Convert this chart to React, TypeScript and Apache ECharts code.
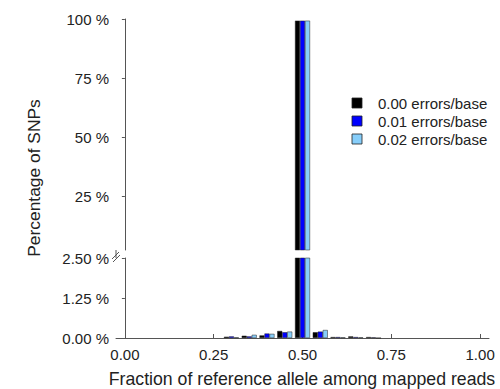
import React, { useEffect, useRef } from "react";
import * as echarts from "echarts";

const bins = [0.30, 0.35, 0.40, 0.45, 0.50, 0.55, 0.60, 0.65, 0.70];
const err000 = [0.04, 0.07, 0.08, 0.22, 99.3, 0.18, 0.03, 0.05, 0.03];
const err001 = [0.05, 0.05, 0.14, 0.18, 99.3, 0.20, 0.03, 0.03, 0.02];
const err002 = [0.02, 0.10, 0.13, 0.20, 99.3, 0.25, 0.02, 0.02, 0.0];
const seriesNames = ["0.00 errors/base", "0.01 errors/base", "0.02 errors/base"];
const seriesColors = ["#000000", "#0000ff", "#87cefa"];
const xTicks = [0, 0.25, 0.5, 0.75, 1.0];
const topTicks = [25, 50, 75, 100];
const breakValue = 2.5;

export default function App() {
  const ref = useRef<HTMLDivElement>(null);
  useEffect(() => {
    if (!ref.current) return;
    const chart = echarts.init(ref.current, null, { renderer: "svg" });
    const all = [err000, err001, err002];
    const textColor = "#222";
    const axisColor = "#555";
    const font = "Liberation Sans, Arial";
    const left = 116;
    const right = 11;
    const series: any[] = [];
    all.forEach((vals, i) => {
      const common = {
        name: seriesNames[i],
        type: "bar",
        barWidth: 5,
        barGap: "0%",
        clip: true,
        itemStyle: { color: seriesColors[i], borderColor: "#222", borderWidth: 0.5 },
      };
      series.push({
        ...common,
        xAxisIndex: 0,
        yAxisIndex: 0,
        data: bins.map((b, k) => [b, vals[k] > breakValue ? vals[k] : null]),
      });
      series.push({
        ...common,
        xAxisIndex: 1,
        yAxisIndex: 1,
        data: bins.map((b, k) => [b, vals[k]]),
      });
    });
    const xBase = {
      type: "value",
      min: -0.025,
      max: 1.025,
      splitLine: { show: false },
    };
    const legendGraphics: any[] = [];
    seriesNames.forEach((name, i) => {
      const cy = 103 + i * 18;
      legendGraphics.push({
        type: "rect",
        shape: { x: 352, y: cy - 5, width: 10, height: 10 },
        style: { fill: seriesColors[i], stroke: "#222", lineWidth: 0.8 },
      });
      legendGraphics.push({
        type: "text",
        x: 378,
        y: cy,
        style: { text: name, fontSize: 15, fill: textColor, fontFamily: font, verticalAlign: "middle" },
      });
    });
    chart.setOption({
      animation: false,
      grid: [
        { left, right, top: 19, height: 231 },
        { left, right, top: 258, bottom: 51 },
      ],
      xAxis: [
        { ...xBase, gridIndex: 0, show: false },
        {
          ...xBase,
          gridIndex: 1,
          axisLine: { show: true, onZero: false, lineStyle: { color: axisColor, width: 1 } },
          axisTick: { show: true, inside: true, length: 4, customValues: xTicks, lineStyle: { color: axisColor } },
          axisLabel: {
            customValues: xTicks,
            formatter: (v: number) => v.toFixed(2),
            fontSize: 15,
            color: textColor,
            fontFamily: font,
            margin: 9,
          },
        },
      ],
      yAxis: [
        {
          type: "value",
          gridIndex: 0,
          min: breakValue,
          max: 100,
          splitLine: { show: false },
          axisLine: { show: true, lineStyle: { color: axisColor } },
          axisTick: { show: true, length: 3, customValues: topTicks, lineStyle: { color: axisColor } },
          axisLabel: {
            customValues: topTicks,
            formatter: (v: number) => `${v} %`,
            fontSize: 15,
            color: textColor,
            fontFamily: font,
            margin: 7,
          },
        },
        {
          type: "value",
          gridIndex: 1,
          min: 0,
          max: breakValue,
          interval: 1.25,
          splitLine: { show: false },
          axisLine: { show: true, lineStyle: { color: axisColor } },
          axisTick: { show: true, length: 3, lineStyle: { color: axisColor } },
          axisLabel: {
            formatter: (v: number) => `${v.toFixed(2)} %`,
            fontSize: 15,
            color: textColor,
            fontFamily: font,
            margin: 7,
          },
        },
      ],
      series,
      graphic: [
        { type: "line", shape: { x1: 116, y1: 250, x2: 116, y2: 258 }, style: { stroke: axisColor, lineWidth: 1 } },
        { type: "line", shape: { x1: 112, y1: 259, x2: 119, y2: 252 }, style: { stroke: axisColor, lineWidth: 1 } },
        { type: "line", shape: { x1: 113, y1: 262, x2: 120, y2: 255 }, style: { stroke: axisColor, lineWidth: 1 } },
        ...legendGraphics,
        {
          type: "text",
          x: 302,
          y: 379,
          style: {
            text: "Fraction of reference allele among mapped reads",
            fontSize: 17.7,
            fill: textColor,
            fontFamily: font,
            align: "center",
            verticalAlign: "middle",
          },
        },
        {
          type: "text",
          x: 34,
          y: 178,
          rotation: Math.PI / 2,
          style: {
            text: "Percentage of SNPs",
            fontSize: 17.4,
            fill: textColor,
            fontFamily: font,
            align: "center",
            verticalAlign: "middle",
          },
        },
      ],
    });
    return () => chart.dispose();
  }, []);
  return <div ref={ref} style={{ width: 500, height: 389, position: "absolute", left: 0, top: 0 }} />;
}
